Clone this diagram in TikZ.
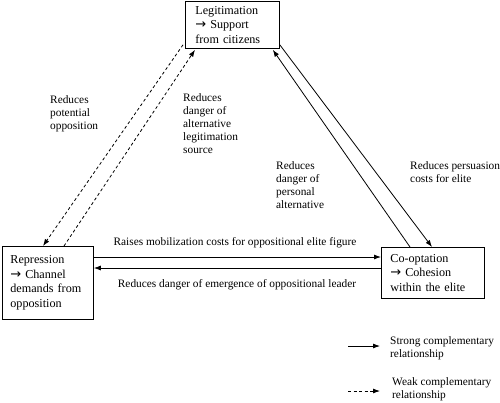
\documentclass[tikz,border=0pt]{standalone}
\usepackage{fontspec}
\setmainfont{Liberation Serif}
\newfontfamily\arrowfont{DejaVu Sans}
\newcommand{\rarr}{{\arrowfont\fontsize{13}{14.5}\selectfont →}}
\usetikzlibrary{arrows.meta,calc}
\begin{document}
\begin{tikzpicture}[x=1bp,y=-1bp,
  box/.style={draw, line width=0.8bp, rectangle, anchor=north west, inner ysep=0pt,
    align=left, font=\fontsize{12.2}{14.5}\selectfont},
  lbl/.style={inner sep=0pt, align=left, anchor=north west, font=\fontsize{11.4}{13.2}\selectfont},
  strong/.style={line width=0.8bp, -{Latex[length=7bp,width=5bp]}},
  weak/.style={strong, dash pattern=on 3bp off 2.5bp}]
\useasboundingbox (0,0) rectangle (500,402);

\node[box, minimum width=94bp, minimum height=47bp, inner xsep=10bp, text width=74bp]
  (legit) at (185,1) {Legitimation\\\rarr{} Support\\from citizens};
\node[box, minimum width=91bp, minimum height=73bp, inner xsep=8bp, text width=75bp]
  (repr) at (2,246) {Repression\\\rarr{} Channel\\demands from\\opposition};
\node[box, minimum width=103bp, minimum height=51bp, inner xsep=9bp, text width=85bp]
  (coop) at (381,247) {Co-optation\\\rarr{} Cohesion\\within the elite};

% dashed connectors
\coordinate (d1s) at ($(legit.south west)+(-2,-4)$);
\coordinate (d1e) at ($(repr.north west)+(41,0)$);
\coordinate (d2s) at ($(repr.north west)+(62,0)$);
\coordinate (d2e) at ($(legit.south west)+(10,1)$);
\draw[weak] (d1s) -- (d1e);
\draw[weak] (d2s) -- (d2e);

% solid diagonals
\coordinate (sAs) at ($(coop.north west)+(29,0)$);
\coordinate (sAe) at ($(legit.south east)+(-7,1)$);
\coordinate (sBs) at ($(legit.south east)+(0,-4)$);
\coordinate (sBe) at ($(coop.north west)+(51,0)$);
\draw[strong] (sAs) -- (sAe);
\draw[strong] (sBs) -- (sBe);

% horizontals
\coordinate (h1s) at ($(repr.north east)+(0,11)$);
\coordinate (h1e) at ($(coop.north west)+(0,10)$);
\coordinate (h2s) at ($(coop.north west)+(0,21)$);
\coordinate (h2e) at ($(repr.north east)+(0,22)$);
\draw[strong] (h1s) -- (h1e);
\draw[strong] (h2s) -- (h2e);

% labels
\node[lbl] (l1) at (50,95) {Reduces\\potential\\opposition};
\node[lbl] (l2) at (183,93) {Reduces\\danger of\\alternative\\legitimation\\source};
\node[lbl] (l3) at (276,161) {Reduces\\danger of\\personal\\alternative};
\node[lbl] (l4) at (410,161) {Reduces persuasion\\costs for elite};
\node[lbl, anchor=center] (l5) at (235,243) {Raises mobilization costs for oppositional elite figure};
\node[lbl, anchor=center] (l6) at (237,285) {Reduces danger of emergence of oppositional leader};

% legend
\coordinate (ls1) at (348,346);
\coordinate (le1) at (380,346);
\coordinate (ls2) at (348,391);
\coordinate (le2) at (380,391);
\draw[strong] (ls1) -- (le1);
\draw[weak] (ls2) -- (le2);
\node[lbl] (t1) at (390,336) {Strong complementary\\relationship};
\node[lbl] (t2) at (392,377) {Weak complementary\\relationship};
\end{tikzpicture}
\end{document}
